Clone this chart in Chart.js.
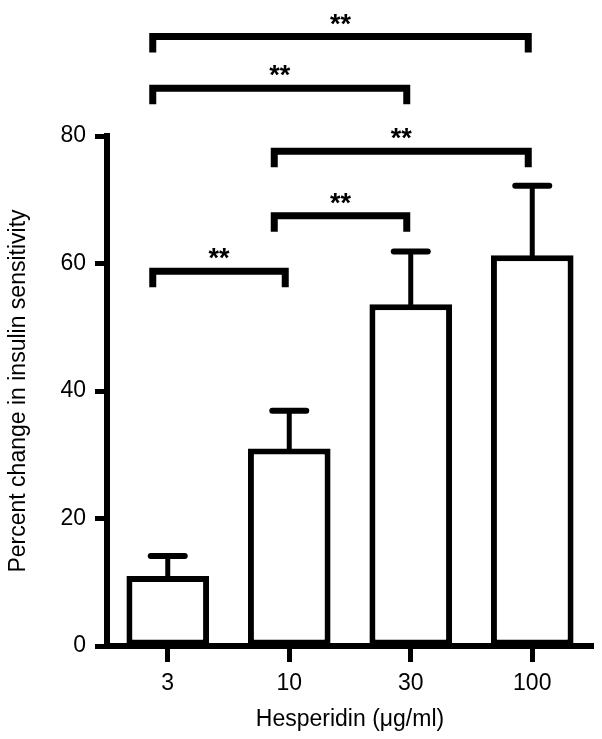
<!DOCTYPE html>
<html>
<head>
<meta charset="utf-8">
<script src="https://cdn.jsdelivr.net/npm/chart.js@4.4.1/dist/chart.umd.min.js"></script>
<style>
  html, body { margin: 0; padding: 0; background: #fff; }
  #wrap { width: 602px; height: 739px; }
</style>
</head>
<body>
<div id="wrap"><canvas id="chart"></canvas></div>
<script>
const doses = ['3', '10', '30', '100'];
const meanChange = [11.0, 31.0, 53.6, 61.3];
const errorUp = [3.1, 5.9, 8.3, 10.9];
const yTicks = [0, 20, 40, 60, 80];

// significance brackets: from dose index, to dose index, height in axis units
const bracketFrom = [0, 1, 1, 0, 0];
const bracketTo = [1, 2, 3, 2, 3];
const bracketAt = [58.8, 67.5, 77.6, 87.5, 95.6];
const bracketLabel = ['**', '**', '**', '**', '**'];

const INK = '#000';
const FONT = '"Liberation Sans", Arial, Helvetica, sans-serif';

/**
 * Upper error bars (stem + cap) on top of each bar
 */
const errorBarPlugin = {
  id: 'errorBars',
  afterDatasetsDraw(chart) {
    const ctx = chart.ctx;
    const yScale = chart.scales.y;
    const meta = chart.getDatasetMeta(0);

    ctx.save();
    ctx.strokeStyle = INK;
    meta.data.forEach((bar, i) => {
      const top = yScale.getPixelForValue(meanChange[i] + errorUp[i]);
      ctx.lineCap = 'butt';
      ctx.lineWidth = 5;
      ctx.beginPath();
      ctx.moveTo(bar.x, bar.y + 2);
      ctx.lineTo(bar.x, top);
      ctx.stroke();

      ctx.lineCap = 'round';
      ctx.lineWidth = 6;
      ctx.beginPath();
      ctx.moveTo(bar.x - 17, top);
      ctx.lineTo(bar.x + 17, top);
      ctx.stroke();
    });
    ctx.restore();
  },
};

/**
 * Significance brackets with ** labels
 */
const bracketPlugin = {
  id: 'brackets',
  afterDraw(chart) {
    const ctx = chart.ctx;
    const xScale = chart.scales.x;
    const yScale = chart.scales.y;

    ctx.save();
    ctx.strokeStyle = INK;
    ctx.fillStyle = INK;
    ctx.lineWidth = 7;
    ctx.lineJoin = 'miter';
    ctx.lineCap = 'butt';
    ctx.font = 'bold 27px ' + FONT;
    ctx.textAlign = 'center';
    ctx.textBaseline = 'alphabetic';

    bracketAt.forEach((v, i) => {
      const x1 = xScale.getPixelForValue(bracketFrom[i]) - 15;
      const x2 = xScale.getPixelForValue(bracketTo[i]) - 4;
      const py = yScale.getPixelForValue(v);
      ctx.beginPath();
      ctx.moveTo(x1, py + 16);
      ctx.lineTo(x1, py);
      ctx.lineTo(x2, py);
      ctx.lineTo(x2, py + 16);
      ctx.stroke();
      ctx.fillText(bracketLabel[i], (x1 + x2) / 2, py - 4);
    });
    ctx.restore();
  },
};

new Chart(document.getElementById('chart'), {
  type: 'bar',
  data: {
    labels: doses,
    datasets: [
      {
        data: meanChange,
        backgroundColor: '#fff',
        borderColor: INK,
        borderWidth: 6,
        borderSkipped: false,
        barPercentage: 0.68,
        categoryPercentage: 1,
      },
    ],
  },
  options: {
    responsive: true,
    maintainAspectRatio: false,
    animation: false,
    layout: { padding: { top: 136, right: 9, left: 0, bottom: 0 } },
    plugins: {
      legend: { display: false },
      tooltip: { enabled: false },
    },
    scales: {
      x: {
        grid: {
          offset: false,
          drawOnChartArea: false,
          drawTicks: true,
          tickLength: 16,
          tickWidth: 5,
          color: INK,
          tickColor: INK,
        },
        border: { display: true, color: INK, width: 6 },
        ticks: { color: INK, font: { family: FONT, size: 23 }, padding: 8 },
        title: {
          display: true,
          text: 'Hesperidin (μg/ml)',
          color: INK,
          font: { family: FONT, size: 23 },
          padding: { top: 0, bottom: 6 },
        },
        afterFit: (scale) => { scale.height = 93; },
      },
      y: {
        min: 0,
        max: 80,
        afterBuildTicks: (scale) => { scale.ticks = yTicks.map((v) => ({ value: v })); },
        grid: {
          drawOnChartArea: false,
          drawTicks: true,
          tickLength: 12,
          tickWidth: 5,
          color: INK,
          tickColor: INK,
        },
        border: { display: true, color: INK, width: 6 },
        ticks: { color: INK, font: { family: FONT, size: 23 }, padding: 9 },
        title: {
          display: true,
          text: 'Percent change in insulin sensitivity',
          color: INK,
          font: { family: FONT, size: 23 },
          padding: { top: 5, bottom: 0 },
        },
        afterFit: (scale) => { scale.width = 107; },
      },
    },
  },
  plugins: [errorBarPlugin, bracketPlugin],
});
</script>
</body>
</html>
